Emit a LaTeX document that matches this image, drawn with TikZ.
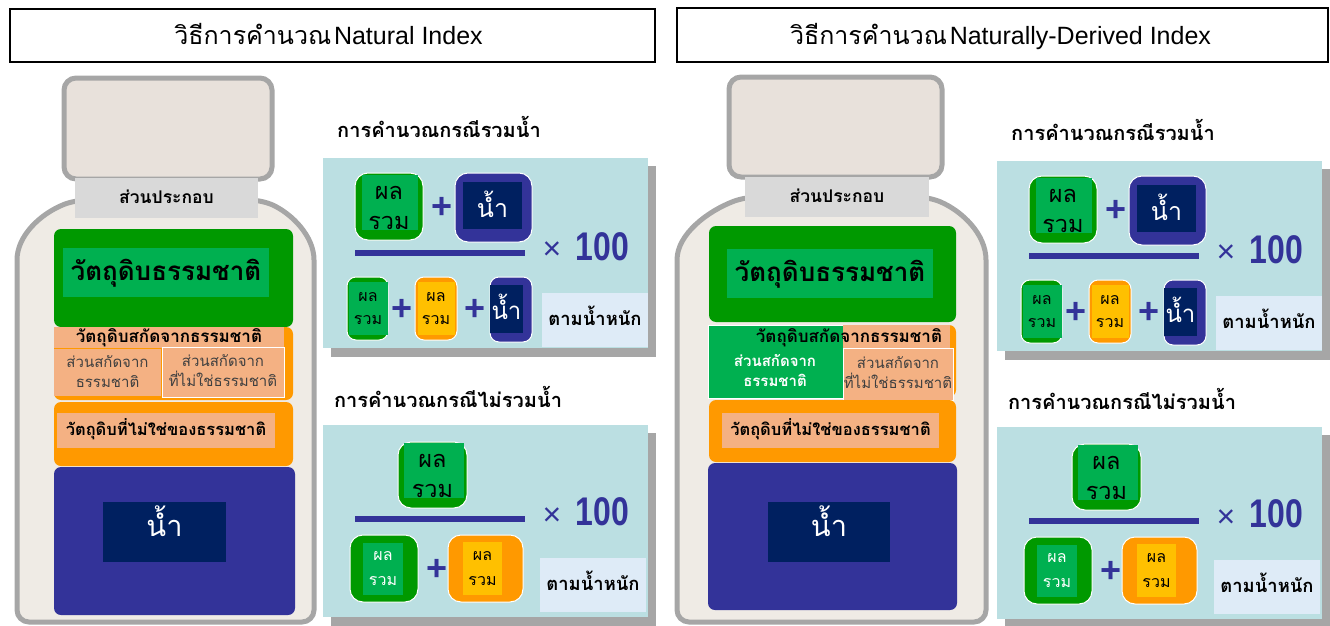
\documentclass[tikz,border=0pt]{standalone}
\usepackage{fontspec}
\setmainfont{Liberation Sans}
\newfontfamily\thai[Script=Thai]{Loma}
\usetikzlibrary{positioning, fit}
\definecolor{bottlegray}{HTML}{A6A6A6}
\definecolor{bottlebg}{HTML}{EFEBE5}
\definecolor{capbg}{HTML}{E8E1DB}
\definecolor{labelgray}{HTML}{D9D9D9}
\definecolor{natgreen}{HTML}{009900}
\definecolor{midgreen}{HTML}{00B050}
\definecolor{extorange}{HTML}{FF9900}
\definecolor{salmon}{HTML}{F4B183}
\definecolor{gold}{HTML}{FFC000}
\definecolor{indigo}{HTML}{333399}
\definecolor{navy}{HTML}{002060}
\definecolor{panelbg}{HTML}{BBDFE2}
\definecolor{shadowgray}{HTML}{A6A6A6}
\definecolor{weightbg}{HTML}{DEEBF7}
\definecolor{subtext}{HTML}{404040}

\begin{document}
\begin{tikzpicture}[x=1pt, y=-1pt,
    titlebox/.style={draw=black, line width=2pt, fill=white, inner sep=0pt},
    bottle/.style={draw=bottlegray, line width=5pt, fill=bottlebg, rounded corners=12pt},
    capbox/.style={draw=bottlegray, line width=5pt, fill=capbg, rounded corners=12pt, inner sep=0pt},
    blk/.style={rounded corners=7pt, inner sep=0pt},
    flat/.style={inner sep=0pt},
    pill/.style={rounded corners=13pt, inner sep=0pt, draw=white, line width=1pt},
    plus/.style={text=indigo, font=\bfseries\fontsize{36}{36}\selectfont, inner sep=0pt},
    frac/.style={draw=indigo, line width=6pt},
    txt/.style={inner sep=0pt, align=center, text depth=0pt},
    parts/.style={txt, font=\thai\bfseries\fontsize{17.5}{20}\selectfont, text height=10.8pt},
    natlbl/.style={txt, font=\thai\bfseries\fontsize{26}{28}\selectfont, text height=16.1pt},
    extlbl/.style={txt, font=\thai\bfseries\fontsize{17}{19}\selectfont, text height=10.5pt},
    sub/.style={txt, font=\thai\fontsize{15}{20}\selectfont, text height=29.3pt, text=subtext},
    synlbl/.style={txt, font=\thai\bfseries\fontsize{16.5}{19}\selectfont, text height=10.2pt},
    bigwater/.style={txt, font=\thai\fontsize{29}{31}\selectfont, text height=18pt, text=white},
    head/.style={txt, font=\thai\bfseries\fontsize{20}{22}\selectfont, text height=12.4pt},
    numtx/.style={txt, font=\thai\fontsize{23.5}{30}\selectfont, text height=44.6pt},
    dentx/.style={txt, font=\thai\fontsize{16}{23}\selectfont, text height=32.9pt},
    lowtx/.style={txt, font=\thai\fontsize{16}{25}\selectfont, text height=34.9pt},
    numwater/.style={txt, font=\thai\fontsize{25}{27}\selectfont, text height=15.5pt, text=white},
    denwater/.style={txt, font=\thai\fontsize{24}{26}\selectfont, text height=14.9pt, text=white},
    weight/.style={txt, font=\thai\bfseries\fontsize{18.4}{20}\selectfont, text height=11.4pt},
    times/.style={text=indigo, font=\fontsize{32}{32}\selectfont, inner sep=0pt},
    hund/.style={text=indigo, font=\bfseries\fontsize{40}{40}\selectfont, inner sep=0pt}
]
\useasboundingbox (0,0) rectangle (1330,626);

% titles
\node[titlebox, fit={(10,9) (655,62)}] (titleL) {};
\node[anchor=base, inner sep=0pt] (titletxtL) at (328.5,45) {{\thai\fontsize{25}{27}\selectfont วิธีการคำนวณ} {\fontsize{25}{27}\selectfont Natural Index}};
\node[titlebox, fit={(677,8) (1328,62)}] (titleR) {};
\node[anchor=base, inner sep=0pt] (titletxtR) at (1000.5,45) {{\thai\fontsize{25}{27}\selectfont วิธีการคำนวณ} {\fontsize{25}{27}\selectfont Naturally-Derived Index}};

% left bottle
\draw[bottle] (75,200) .. controls (40,214) and (17,236) .. (17,272) -- (17,622) -- (314,622) -- (314,272) .. controls (314,236) and (292,214) .. (262,200) -- cycle;
\node[capbox, fit={(64,78) (272,179)}] (capL) {};
\node[flat, fill=labelgray, fit={(75,178) (258,218)}] (partsL) {};
\node[parts] at (partsL.center) {ส่วนประกอบ};
\node[blk, fill=natgreen, fit={(54,229) (293,327)}] (natL) {};
\node[flat, fill=midgreen, fit={(63,248) (269,297)}] (natboxL) {};
\node[natlbl] at (natboxL.center) {วัตถุดิบธรรมชาติ};
\node[blk, fill=extorange, fit={(54,327) (293,400)}] (extL) {};
\node[flat, fill=salmon, fit={(54,327) (284,348)}] (extboxL) {};
\node[extlbl] at (extboxL.center) {วัตถุดิบสกัดจากธรรมชาติ};
\node[flat, fill=salmon, fit={(54,349) (161,396)}] (extnatL) {};
\node[sub] at (extnatL.center) {ส่วนสกัดจาก\\ธรรมชาติ};
\node[flat, fill=salmon, draw=white, line width=1pt, fit={(162,347) (284,397)}] (extsynL) {};
\node[sub] at (extsynL.center) {ส่วนสกัดจาก\\ที่ไม่ใช่ธรรมชาติ};
\node[blk, fill=extorange, fit={(54,402) (293,466)}] (synL) {};
\node[flat, fill=salmon, fit={(57,413) (275,448)}] (synboxL) {};
\node[synlbl] at (synboxL.center) {วัตถุดิบที่ไม่ใช่ของธรรมชาติ};
\node[blk, fill=indigo, fit={(54,467) (295,615)}] (waterL) {};
\node[flat, fill=navy, fit={(103,502) (226,562)}] (waterboxL) {};
\node[bigwater] at ([yshift=5pt]waterboxL.center) {น้ำ};

% right bottle
\draw[bottle] (745,197) .. controls (708,211) and (677,234) .. (677,272) -- (677,622) -- (986,622) -- (986,272) .. controls (986,234) and (962,211) .. (929,197) -- cycle;
\node[capbox, fit={(729,77) (942,177)}] (capR) {};
\node[flat, fill=labelgray, fit={(745,177) (929,217)}] (partsR) {};
\node[parts] at (partsR.center) {ส่วนประกอบ};
\node[blk, fill=natgreen, fit={(709,226) (956,322)}] (natR) {};
\node[flat, fill=midgreen, fit={(727,249) (933,298)}] (natboxR) {};
\node[natlbl] at (natboxR.center) {วัตถุดิบธรรมชาติ};
\node[blk, fill=extorange, fit={(709,325) (956,397)}] (extR) {};
\node[flat, fill=midgreen, draw=white, line width=1pt, fit={(708,325) (843,398)}] (extnatR) {};
\node[flat, fill=salmon, fit={(843,325) (950,348)}] (extboxR) {};
\node[extlbl] at (849,337) {วัตถุดิบสกัดจากธรรมชาติ};
\node[flat, fill=salmon, draw=white, line width=1pt, fit={(843,348) (953,400)}] (extsynR) {};
\node[sub] at (extsynR.center) {ส่วนสกัดจาก\\ที่ไม่ใช่ธรรมชาติ};
\node[sub, text=white, font=\thai\bfseries\fontsize{15}{20}\selectfont] at (775,372) {ส่วนสกัดจาก\\ธรรมชาติ};
\node[blk, fill=extorange, fit={(709,400) (956,462)}] (synR) {};
\node[flat, fill=salmon, fit={(722,413) (939,448)}] (synboxR) {};
\node[synlbl] at (synboxR.center) {วัตถุดิบที่ไม่ใช่ของธรรมชาติ};
\node[blk, fill=indigo, fit={(708,463) (957,610)}] (waterR) {};
\node[flat, fill=navy, fit={(768,502) (890,562)}] (waterboxR) {};
\node[bigwater] at ([yshift=5pt]waterboxR.center) {น้ำ};

% formula panels
\foreach \dx/\dy/\s in {0/0/L, 674/3/R} {
  \begin{scope}[shift={(\dx,\dy)}]
    % with water
    \node[head] (wtitle\s) at (439,131) {การคำนวณกรณีรวมน้ำ};
    \fill[shadowgray] (331,166) rectangle (656,357);
    \node[flat, fill=panelbg, fit={(323,158) (648,348)}] (wpanel\s) {};
    \node[pill, fill=natgreen, fit={(355,173) (423,240)}] (wnum\s) {};
    \fill[midgreen] (362,175) rectangle (418,230);
    \node[numtx] (wnumtx\s) at (389,207) {ผล\\รวม};
    \node[plus] (wp1\s) at (442,208) {+};
    \node[pill, fill=indigo, fit={(455,173) (532,242)}] (wwat\s) {};
    \node[flat, fill=navy, fit={(463,182) (522,229)}] (wwatbox\s) {};
    \node[numwater] at ([yshift=-4pt]wwatbox\s.center) {น้ำ};
    \draw[frac] (355,253) -- (525,253);
    \node[times] (wtimes\s) at (552,251) {×};
    \node[hund] (whund\s) at (602.5,247) {\scalebox{0.8}[1]{100}};
    \node[pill, fill=natgreen, rounded corners=9pt, fit={(347,277) (388,340)}] (wd1\s) {};
    \fill[midgreen] (349,282) rectangle (388,335);
    \node[dentx] at (368,308.5) {ผล\\รวม};
    \node[plus] (wp2\s) at (402,310) {+};
    \node[pill, fill=extorange, rounded corners=9pt, fit={(415,277) (457,340)}] (wd2\s) {};
    \fill[gold] (418,282) rectangle (455,335);
    \node[dentx] at (436,308.5) {ผล\\รวม};
    \node[plus] (wp3\s) at (475,310) {+};
    \node[pill, fill=indigo, rounded corners=9pt, fit={(490,277) (532,342)}] (wd3\s) {};
    \node[flat, fill=navy, fit={(490,285) (523,333)}] (wd3box\s) {};
    \node[denwater] at ([yshift=-3pt]wd3box\s.center) {น้ำ};
    \node[flat, fill=weightbg, fit={(542,293) (648,347)}] (wweight\s) {};
    \node[weight] at (wweight\s.center) {ตามน้ำหนัก};
  \end{scope}
}
\foreach \dx/\dy/\s in {0/0/L, 674/2/R} {
  \begin{scope}[shift={(\dx,\dy)}]
    % without water
    \node[head] (ntitle\s) at (448,401) {การคำนวณกรณีไม่รวมน้ำ};
    \fill[shadowgray] (331,433) rectangle (656,626);
    \node[flat, fill=panelbg, fit={(323,425) (648,617)}] (npanel\s) {};
    \node[pill, fill=natgreen, fit={(398,442) (467,508)}] (nnum\s) {};
    \fill[midgreen] (404,443) rectangle (464,498);
    \node[numtx] at (432.5,475) {ผล\\รวม};
    \draw[frac] (355,519) -- (525,519);
    \node[times] (ntimes\s) at (552,517) {×};
    \node[hund] (nhund\s) at (602.5,512) {\scalebox{0.8}[1]{100}};
    \node[pill, fill=natgreen, fit={(350,535) (418,602)}] (nd1\s) {};
    \fill[midgreen] (363,543) rectangle (403,595);
    \node[lowtx, text=white] at (383,568) {ผล\\รวม};
    \node[plus] (np1\s) at (437,570) {+};
    \node[pill, fill=extorange, fit={(448,535) (523,602)}] (nd2\s) {};
    \fill[gold] (463,542) rectangle (502,595);
    \node[lowtx] at (482.5,568) {ผล\\รวม};
    \node[flat, fill=weightbg, fit={(540,558) (646,612)}] (nweight\s) {};
    \node[weight] at (nweight\s.center) {ตามน้ำหนัก};
  \end{scope}
}
\end{tikzpicture}
\end{document}
